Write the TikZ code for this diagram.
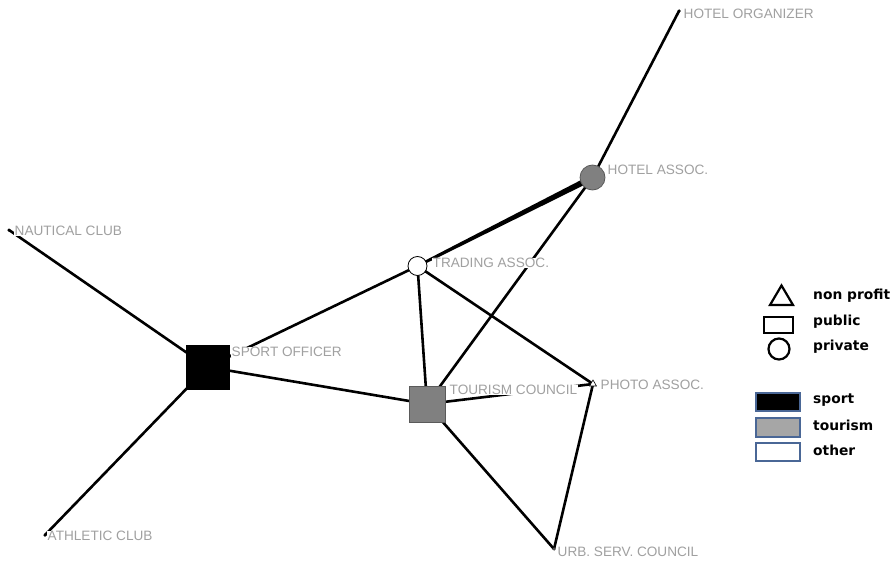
\documentclass[tikz,border=0pt]{standalone}
\usepackage{fontspec}
\setmainfont{Liberation Sans}
\newfontfamily\legendfont{DejaVu Sans}
\usetikzlibrary{shapes.geometric,calc}
\pgfdeclarelayer{edges}
\pgfsetlayers{edges,main}
\definecolor{nodegray}{HTML}{808080}
\definecolor{labelgray}{HTML}{A0A0A0}
\definecolor{keyblue}{HTML}{4A6796}
\definecolor{keygray}{HTML}{A6A6A6}
\begin{document}
\begin{tikzpicture}[x=1pt,y=-1pt,
  dotnode/.style={circle,fill=black,inner sep=0pt,minimum size=3.5pt},
  pubnode/.style={rectangle,inner sep=0pt,line width=0.6pt},
  privnode/.style={circle,inner sep=0pt,line width=0.8pt},
  npnode/.style={regular polygon,regular polygon sides=3,draw=black,fill=white,
    inner sep=0pt,minimum size=8pt,line width=0.6pt},
  lbl/.style={anchor=west,fill=white,inner sep=0.5pt,text=labelgray,
    font=\fontsize{13.6}{14}\selectfont},
  tie/.style={line width=2.6pt,black},
  keytext/.style={anchor=west,inner sep=0pt,
    font=\legendfont\bfseries\fontsize{13.8}{15}\selectfont},
  keybox/.style={draw=keyblue,line width=1.8pt},
  keyshape/.style={draw=black,line width=2.2pt}]
\useasboundingbox (0,0) rectangle (896,564);

% actors
\node[dotnode] (hotelorg) at (679,11) {};
\node[privnode,draw=nodegray!70!black,fill=nodegray,minimum size=25pt] (hotel) at (592.5,177.5) {};
\node[privnode,draw=black,fill=white,minimum size=19pt] (trading) at (417.5,266) {};
\node[dotnode] (nautical) at (9,230) {};
\node[pubnode,fill=black,draw=black,minimum width=43pt,minimum height=44pt] (sport) at (207.5,367) {};
\node[pubnode,fill=nodegray,draw=nodegray!70!black,minimum size=36pt] (tourism) at (427,404) {};
\node[npnode] (photo) at (593,384) {};
\node[dotnode,fill=black!70] (urb) at (554,549) {};
\node[dotnode] (athletic) at (45,535) {};

% ties
\begin{pgfonlayer}{edges}
  \draw[tie] (hotelorg.center) -- (hotel.center);
  \fill ($(hotel.center)!3pt!90:(trading.center)$)
     -- ($(hotel.center)!3pt!-90:(trading.center)$)
     -- ($(trading.center)!1.4pt!90:(hotel.center)$)
     -- ($(trading.center)!1.4pt!-90:(hotel.center)$) -- cycle;
  \draw[tie] (hotel.center) -- (tourism.center);
  \draw[tie] (trading.center) -- (sport.center);
  \draw[tie] (trading.center) -- (tourism.center);
  \draw[tie] (trading.center) -- (photo.center);
  \draw[tie] (nautical.center) -- (sport.center);
  \draw[tie] (athletic.center) -- (sport.center);
  \draw[tie] (sport.center) -- (tourism.center);
  \draw[tie] (tourism.center) -- (photo.center);
  \draw[tie] (photo.center) -- (urb.center);
  \draw[tie] (tourism.center) -- (urb.center);
\end{pgfonlayer}

% actor names
\node[lbl] (hotelorg-l) at (683,14) {HOTEL ORGANIZER};
\node[lbl] (hotel-l) at (607,169.5) {HOTEL ASSOC.};
\node[lbl] (trading-l) at (432,263) {TRADING ASSOC.};
\node[lbl] (nautical-l) at (14,231) {NAUTICAL CLUB};
\node[lbl] (sport-l) at (231,352) {SPORT OFFICER};
\node[lbl] (tourism-l) at (449,390) {TOURISM COUNCIL};
\node[lbl] (photo-l) at (600,385) {PHOTO ASSOC.};
\node[lbl] (urb-l) at (557,552) {URB. SERV. COUNCIL};
\node[lbl] (athletic-l) at (47,536) {ATHLETIC CLUB};

% key: shapes
\draw[keyshape,line join=miter] (770,305) -- (781.5,285.5) -- (793,305) -- cycle;
\draw[keyshape] (764,317) rectangle (793,333);
\draw[keyshape] (779,349) circle (10.5);
\node[keytext] (k-np) at (813,296) {non profit};
\node[keytext] (k-pub) at (813,322) {public};
\node[keytext] (k-priv) at (813,347) {private};

% key: sectors
\draw[keybox,fill=black] (756,393) rectangle (800,411);
\draw[keybox,fill=keygray] (756,418) rectangle (800,437);
\draw[keybox,fill=white] (756,443) rectangle (800,461);
\node[keytext] (k-sport) at (813,400) {sport};
\node[keytext] (k-tour) at (813,425) {tourism};
\node[keytext] (k-other) at (813,450) {other};
\end{tikzpicture}
\end{document}
